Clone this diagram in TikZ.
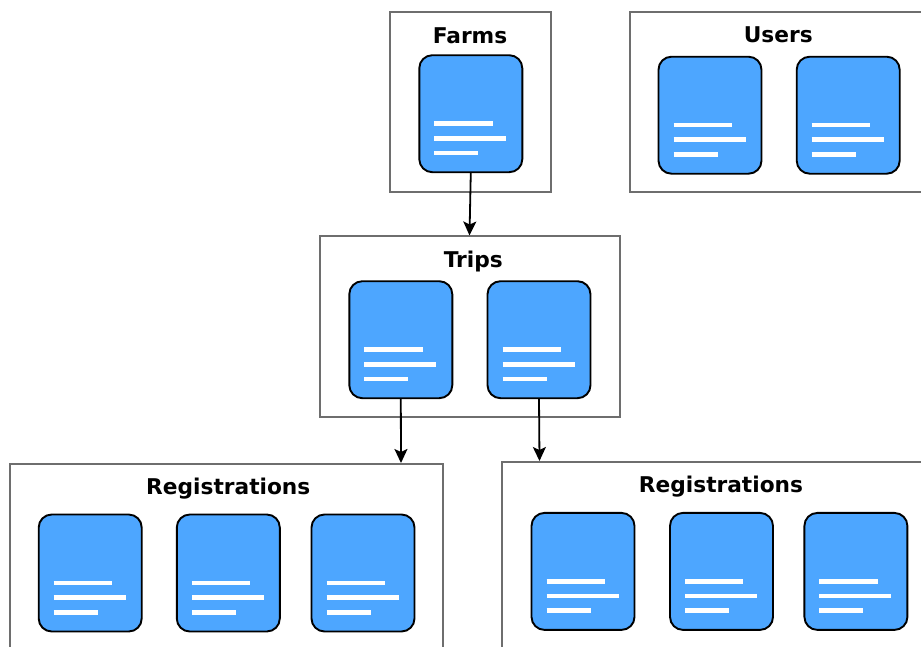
\documentclass[tikz,border=0pt]{standalone}
\usepackage{fontspec}
\setmainfont{DejaVu Sans}
\usetikzlibrary{arrows.meta}
\definecolor{cardblue}{HTML}{4DA6FF}
\definecolor{boxgray}{HTML}{6E6E6E}
\tikzset{
  groupbox/.style={draw=boxgray, line width=2pt, fill=white, inner sep=0pt, outer sep=0pt},
  card/.style={draw=black, line width=1.9pt, fill=cardblue, rounded corners=13pt,
    minimum width=103pt, minimum height=117pt, inner sep=0pt, outer sep=0pt},
  grouptitle/.style={anchor=base, inner sep=0pt, font=\fontsize{21.7}{26}\selectfont\bfseries},
  textline/.style={draw=white, line width=4.6pt},
  link/.style={draw=black, line width=1.8pt, -{Stealth[length=14pt,width=13pt,inset=3pt]}}
}
\newcommand{\cardlines}[1]{%
  \draw[textline] ([xshift=15pt,yshift=-68.3pt]#1.north west) -- ++(58.4pt,0);
  \draw[textline] ([xshift=15pt,yshift=-83pt]#1.north west) -- ++(72pt,0);
  \draw[textline] ([xshift=15pt,yshift=-97.7pt]#1.north west) -- ++(44pt,0);
}
\begin{document}
\begin{tikzpicture}[x=1pt,y=-1pt]
\useasboundingbox (0,0) rectangle (921,646);
% group boxes
\begin{scope}
\clip (0,0) rectangle (921,646);
\draw[groupbox] (390.3,11.7) rectangle (551,192);
\draw[groupbox] (629.5,11.7) rectangle (930,191.7);
\draw[groupbox] (320.3,236) rectangle (619.7,417);
\node[inner sep=0pt] (tripsbox) at (469.5,235.5) {};
\draw[groupbox] (10,464) rectangle (443,660);
\node[inner sep=0pt] (regLbox) at (401,463) {};
\draw[groupbox] (502.3,462) rectangle (930,660);
\node[inner sep=0pt] (regRbox) at (539.5,461) {};
\end{scope}
% titles
\node[grouptitle] (tFarms) at (470,43.3) {Farms};
\node[grouptitle] (tUsers) at (778.3,42.7) {Users};
\node[grouptitle] (tTrips) at (473.3,267.7) {Trips};
\node[grouptitle] (tRegL) at (228.3,494.5) {Registrations};
\node[grouptitle] (tRegR) at (721,492.3) {Registrations};
% cards
\node[card] (farms1) at (470.8,113.7) {};
\node[card] (users1) at (710,115.2) {};
\node[card] (users2) at (848.2,115.2) {};
\node[card] (trips1) at (400.8,339.7) {};
\node[card] (trips2) at (539,339.7) {};
\node[card] (regL1) at (90.2,573) {};
\node[card] (regL2) at (228.3,573) {};
\node[card] (regL3) at (363,573) {};
\node[card] (regR1) at (583,571.4) {};
\node[card] (regR2) at (721.5,571.4) {};
\node[card] (regR3) at (855.9,571.4) {};
\foreach \c in {farms1,users1,users2,trips1,trips2,regL1,regL2,regL3,regR1,regR2,regR3}{
  \cardlines{\c}
}
% connectors
\draw[link] (farms1.south) -- (tripsbox.center);
\draw[link] (trips1.south) -- (regLbox.center);
\draw[link] (trips2.south) -- (regRbox.center);
\end{tikzpicture}
\end{document}
